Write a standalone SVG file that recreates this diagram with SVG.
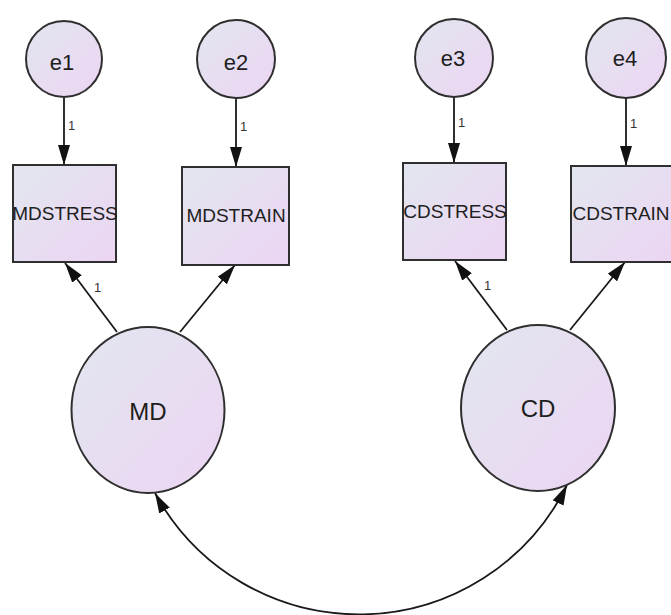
<svg xmlns="http://www.w3.org/2000/svg" width="671" height="615" viewBox="0 0 671 615">
<defs>
<linearGradient id="fillg" x1="0" y1="0" x2="1" y2="1">
<stop offset="0" stop-color="#e2e6ef"/>
<stop offset="1" stop-color="#ecd5f3"/>
</linearGradient>
<marker id="ah" viewBox="0 0 20 12" markerWidth="20" markerHeight="12" refX="20" refY="6" orient="auto-start-reverse" markerUnits="userSpaceOnUse">
<path d="M0,0 L20,6 L0,12 z" fill="#111"/>
</marker>
<style>
.node{fill:url(#fillg);stroke:#2f2f2f;stroke-width:2}
.lbl{font-family:"Liberation Sans",Arial,sans-serif;fill:#1e1e1e;text-anchor:middle}
.e{font-size:22px}
.box{font-size:19px}
.lat{font-size:24px}
.one{font-family:"Liberation Sans",Arial,sans-serif;font-size:13px;fill:#333}
.edge{stroke:#1a1a1a;stroke-width:1.8;fill:none;marker-end:url(#ah)}
</style>
</defs>
<rect width="671" height="615" fill="#fff"/>
<g id="connectors">
<line class="edge" x1="64" y1="98" x2="64" y2="165"/>
<line class="edge" x1="236" y1="98" x2="236" y2="167"/>
<line class="edge" x1="454" y1="97" x2="454" y2="163"/>
<line class="edge" x1="626" y1="98" x2="626" y2="166"/>
<line class="edge" x1="117" y1="332" x2="65" y2="263"/>
<line class="edge" x1="180" y1="332" x2="235" y2="265"/>
<line class="edge" x1="507" y1="330" x2="455" y2="261"/>
<line class="edge" x1="570" y1="330" x2="625" y2="262"/>
<path class="edge" style="marker-start:url(#ah)" d="M155,493 A232,232 0 0 0 567,485"/>
<text class="one" x="68" y="130">1</text>
<text class="one" x="240" y="131">1</text>
<text class="one" x="458" y="127">1</text>
<text class="one" x="630" y="128">1</text>
<text class="one" x="94" y="292">1</text>
<text class="one" x="484" y="290">1</text>
</g>
<g id="e1"><circle class="node" cx="64" cy="59" r="38"/><text class="lbl e" x="62" y="70">e1</text></g>
<g id="e2"><circle class="node" cx="236" cy="59" r="39"/><text class="lbl e" x="236" y="70">e2</text></g>
<g id="e3"><circle class="node" cx="454" cy="58" r="39"/><text class="lbl e" x="453" y="66">e3</text></g>
<g id="e4"><circle class="node" cx="626" cy="58" r="40"/><text class="lbl e" x="625" y="66">e4</text></g>
<g id="MDSTRESS"><rect class="node" x="13" y="165" width="103" height="97"/><text class="lbl box" x="65" y="220">MDSTRESS</text></g>
<g id="MDSTRAIN"><rect class="node" x="182" y="167" width="107" height="98"/><text class="lbl box" x="236" y="222">MDSTRAIN</text></g>
<g id="CDSTRESS"><rect class="node" x="403" y="163" width="103" height="97"/><text class="lbl box" x="455" y="218">CDSTRESS</text></g>
<g id="CDSTRAIN"><rect class="node" x="571" y="166" width="103" height="96"/><text class="lbl box" x="621" y="220">CDSTRAIN</text></g>
<g id="MD"><ellipse class="node" cx="148" cy="410" rx="76.5" ry="83"/><text class="lbl lat" x="148" y="420">MD</text></g>
<g id="CD"><ellipse class="node" cx="538" cy="408" rx="77" ry="83"/><text class="lbl lat" x="538" y="417">CD</text></g>
</svg>
